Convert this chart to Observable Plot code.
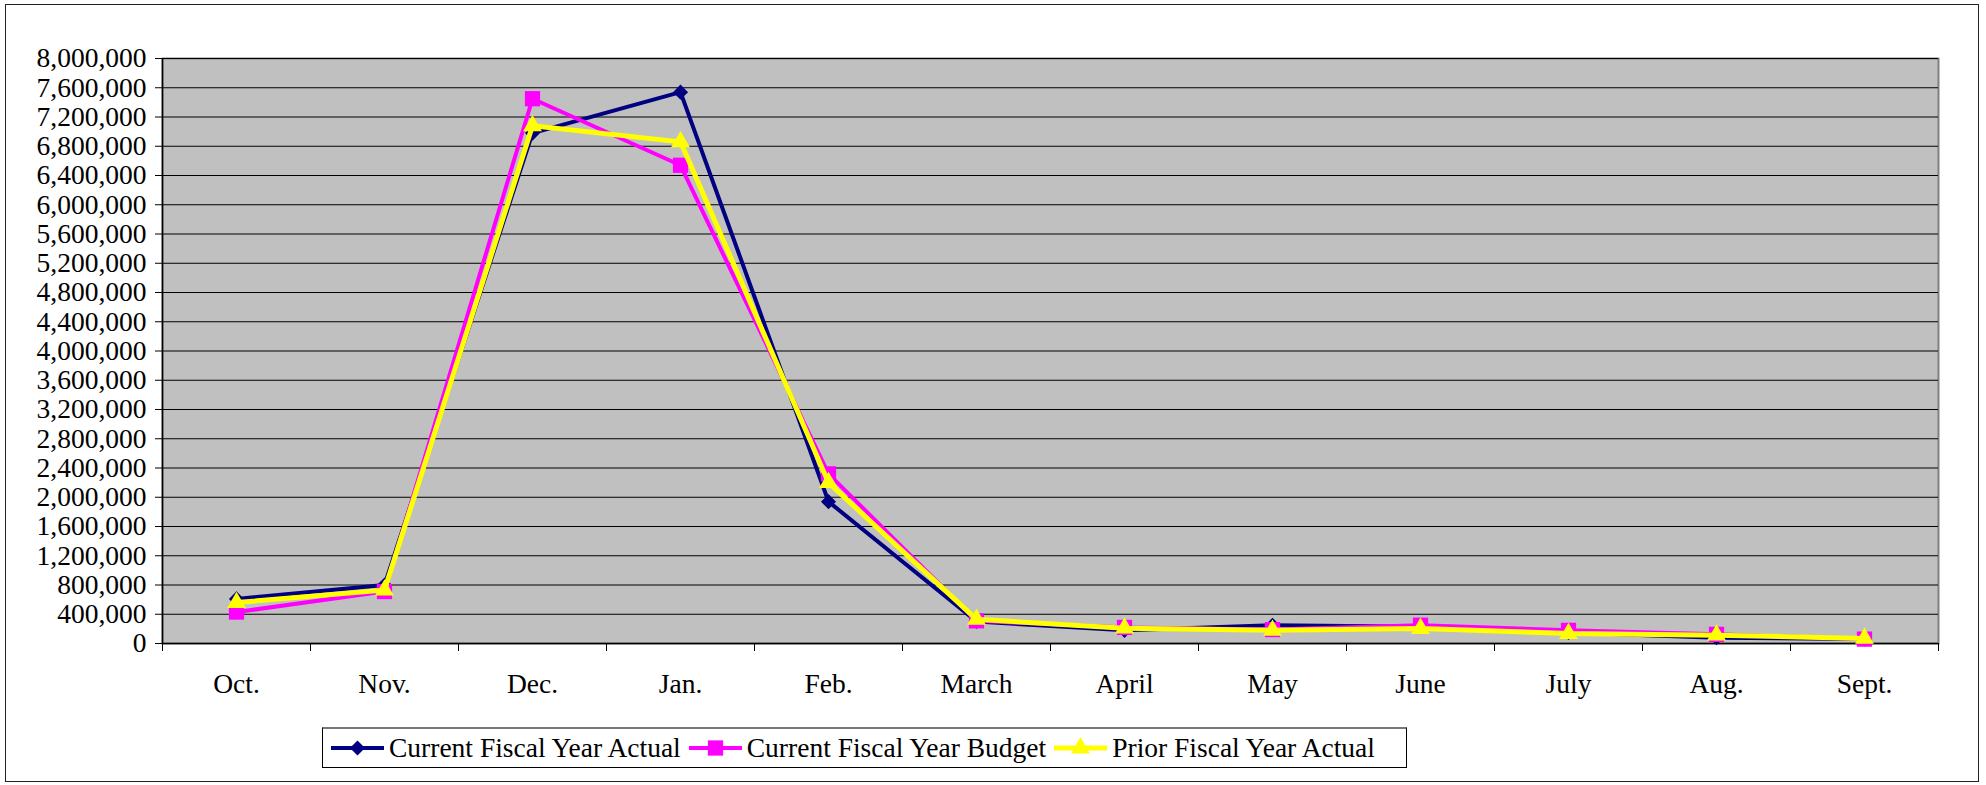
<!DOCTYPE html>
<html>
<head>
<meta charset="utf-8">
<script src="https://cdn.jsdelivr.net/npm/d3@7"></script>
<script src="https://cdn.jsdelivr.net/npm/@observablehq/plot@0.6"></script>
<style>
  body { margin: 0; background: #fff; }
  #wrap { position: relative; width: 1986px; height: 785px; font-family: "Liberation Serif", "Times New Roman", serif; background: #fff; }
  #border { position: absolute; left: 5px; top: 4px; width: 1974px; height: 778px; border: 1.5px solid #222; box-sizing: border-box; pointer-events: none; }
  #chart svg { display: block; }
  #legend { position: absolute; left: 322px; top: 727px; width: 1085px; height: 41px; box-sizing: border-box;
            border: 1px solid #000; border-top: 2px solid #777; background: #fff; display: flex; align-items: center; font-size: 27.5px; color: #000; }
  .item { display: flex; align-items: center; white-space: nowrap; }
  .item svg { margin: 0 4px 0 7px; }
</style>
</head>
<body>
<div id="wrap">
  <div id="chart"></div>
  <div id="legend"></div>
  <div id="border"></div>
</div>
<script>
const months = ["Oct.", "Nov.", "Dec.", "Jan.", "Feb.", "March", "April", "May", "June", "July", "Aug.", "Sept."];
const currentActual = [610000, 800000, 6980000, 7540000, 1940000, 300000, 180000, 250000, 230000, 150000, 80000, 60000];
const currentBudget = [430000, 710000, 7450000, 6540000, 2320000, 310000, 220000, 190000, 250000, 180000, 125000, 60000];
const priorActual = [560000, 730000, 7080000, 6860000, 2200000, 330000, 210000, 180000, 205000, 136000, 114000, 70000];
const seriesNames = ["Current Fiscal Year Actual", "Current Fiscal Year Budget", "Prior Fiscal Year Actual"];
const seriesColors = ["#000080", "#FF00FF", "#FFFF00"];
const seriesSymbols = ["diamond2", "square", "triangle"];
const yTicks = d3.range(0, 8000001, 400000);

const seriesValues = [currentActual, currentBudget, priorActual];
const rowsFor = (k) => months.map((m, i) => ({pos: i + 0.5, month: m, value: seriesValues[k][i], series: seriesNames[k]}));
const symR = [6.8, 8.6, 7.0];
const lineW = [4, 4, 5];

const marks = [
  Plot.frame({fill: "#C0C0C0", stroke: "#808080", strokeWidth: 2}),
  Plot.gridY(yTicks, {stroke: "#000", strokeOpacity: 1, strokeWidth: 1}),
  Plot.ruleX([0], {stroke: "#000", strokeWidth: 1.5}),
  Plot.ruleY([0], {stroke: "#000", strokeWidth: 1.5}),
  Plot.axisY(yTicks, {tickSize: 7, tickPadding: 9, tickFormat: d3.format(","), stroke: "#000", fill: "#000", fontSize: 27.5, label: null}),
  Plot.axisX(d3.range(0, 13), {tickSize: 8, tickFormat: () => "", stroke: "#000", label: null}),
  Plot.axisX(months.map((m, i) => i + 0.5), {tickSize: 0, tickPadding: 30, tickFormat: (d) => months[Math.floor(d)], fill: "#000", fontSize: 27.5, label: null})
];
seriesNames.forEach((name, k) => {
  const rows = rowsFor(k);
  marks.push(Plot.line(rows, {x: "pos", y: "value", stroke: seriesColors[k], strokeWidth: lineW[k], strokeLinejoin: "miter"}));
  marks.push(Plot.dot(rows, {x: "pos", y: "value", symbol: () => seriesSymbols[k], r: symR[k], fill: seriesColors[k], stroke: "none"}));
});

const chart = Plot.plot({
  width: 1986,
  height: 715,
  marginLeft: 162,
  marginRight: 48,
  marginTop: 58,
  marginBottom: 72,
  style: {fontFamily: "'Liberation Serif', 'Times New Roman', serif", fontSize: "27.5px", background: "transparent", color: "#000"},
  x: {type: "linear", domain: [0, 12], label: null},
  y: {type: "linear", domain: [0, 8000000], label: null},
  symbol: {type: "identity"},
  marks
});
document.getElementById("chart").appendChild(chart);

// Legend
const legend = document.getElementById("legend");
const symGen = {diamond2: d3.symbolDiamond2, square: d3.symbolSquare, triangle: d3.symbolTriangle};
seriesNames.forEach((name, k) => {
  const item = document.createElement("div");
  item.className = "item";
  const ns = "http://www.w3.org/2000/svg";
  const svg = document.createElementNS(ns, "svg");
  svg.setAttribute("width", 55); svg.setAttribute("height", 24);
  const ln = document.createElementNS(ns, "line");
  ln.setAttribute("x1", 1); ln.setAttribute("x2", 54); ln.setAttribute("y1", 12); ln.setAttribute("y2", 12);
  ln.setAttribute("stroke", seriesColors[k]); ln.setAttribute("stroke-width", lineW[k]);
  svg.appendChild(ln);
  const p = document.createElementNS(ns, "path");
  p.setAttribute("d", d3.symbol(symGen[seriesSymbols[k]], Math.PI * symR[k] * symR[k])());
  p.setAttribute("transform", "translate(27.5,12)");
  p.setAttribute("fill", seriesColors[k]);
  svg.appendChild(p);
  item.appendChild(svg);
  const t = document.createElement("span");
  t.textContent = name;
  item.appendChild(t);
  legend.appendChild(item);
});
</script>
</body>
</html>
